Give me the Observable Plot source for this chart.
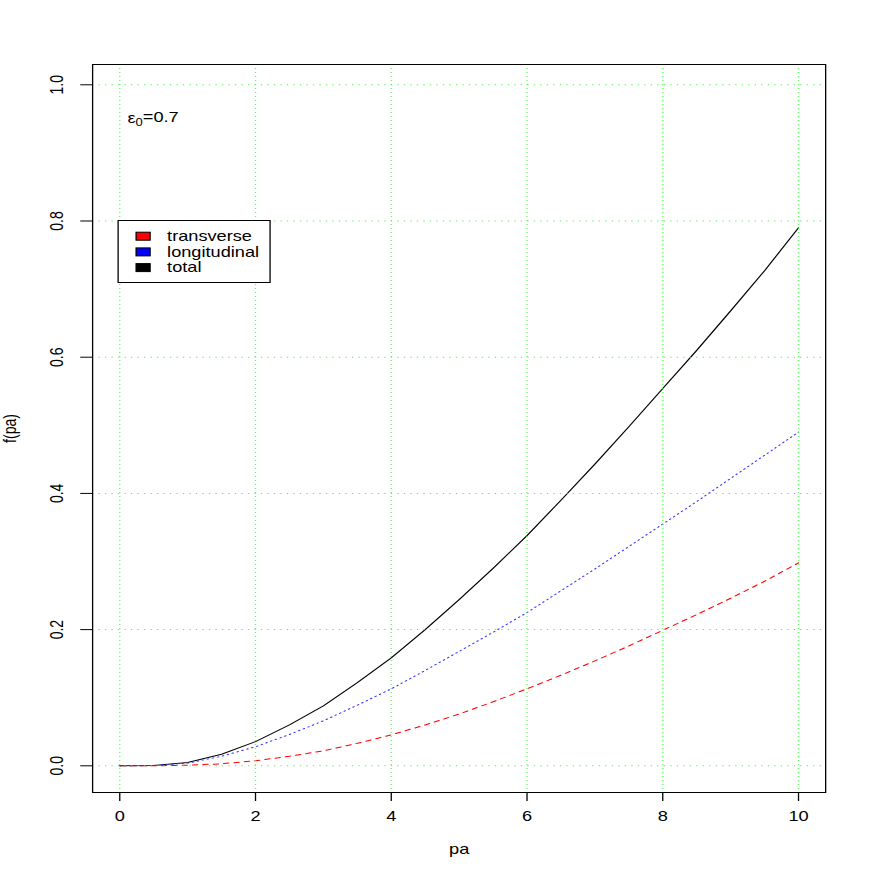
<!DOCTYPE html>
<html>
<head>
<meta charset="utf-8">
<script src="https://cdn.jsdelivr.net/npm/d3@7"></script>
<script src="https://cdn.jsdelivr.net/npm/@observablehq/plot@0.6"></script>
<style>
  html, body { margin: 0; padding: 0; background: #fff; }
  #chart { width: 872px; height: 872px; overflow: hidden; }
</style>
</head>
<body>
<div id="chart"></div>
<script>
// ---- data ----
const pa = [0, 0.5, 1, 1.5, 2, 2.5, 3, 3.5, 4, 4.5, 5, 5.5, 6, 6.5, 7, 7.5, 8, 8.5, 9, 9.5, 10];
const transverse = [0, 0.0000, 0.0008, 0.003, 0.0075, 0.014, 0.022, 0.033, 0.0455, 0.060, 0.076, 0.094, 0.113, 0.133, 0.154, 0.176, 0.199, 0.222, 0.246, 0.271, 0.298];
const longitudinal = [0, 0.0003, 0.004, 0.014, 0.028, 0.046, 0.066, 0.089, 0.113, 0.140, 0.168, 0.196, 0.225, 0.257, 0.289, 0.322, 0.355, 0.388, 0.422, 0.456, 0.490];
const total = [0, 0.0003, 0.0048, 0.017, 0.0355, 0.060, 0.088, 0.122, 0.1585, 0.200, 0.244, 0.290, 0.338, 0.390, 0.443, 0.498, 0.554, 0.610, 0.668, 0.727, 0.790];
const xTicks = [0, 2, 4, 6, 8, 10];
const yTicks = [0, 0.2, 0.4, 0.6, 0.8, 1.0];
const legendLabels = ["transverse", "longitudinal", "total"];
const legendColors = ["#ff0000", "#0000ff", "#000000"];
const annotation = {x: 0.5, y: 0.95, symbol: "ε", sub: "0", rest: "=0.7"};

// ---- layout: the reference is horizontally stretched, so draw narrower and stretch ----
const OUT = 872;
const SX = 1.3;
const W = Math.round(OUT / SX), H = 872;
const FONT = "'Liberation Sans', Arial, Helvetica, sans-serif";
const GRID = "#44ee44";

const rows = (ys, series) => pa.map((x, i) => ({x, y: ys[i], series}));
const tData = rows(transverse, "transverse");
const lData = rows(longitudinal, "longitudinal");
const totData = rows(total, "total");

const plot = Plot.plot({
  width: W,
  height: H,
  marginLeft: 92 / SX,
  marginRight: (OUT - 825) / SX,
  marginTop: 64,
  marginBottom: 80,
  style: {fontFamily: FONT, fontSize: "14px", background: "white", color: "black"},
  x: {domain: [-0.4, 10.4], axis: null},
  y: {domain: [-0.0392, 1.0298], axis: null},
  marks: [
    Plot.line(totData, {x: "x", y: "y", stroke: "#000", strokeWidth: 1}),
    Plot.line(lData, {x: "x", y: "y", stroke: "#3333ff", strokeWidth: 1, strokeDasharray: "1,3"}),
    Plot.line(tData, {x: "x", y: "y", stroke: "#ff0000", strokeWidth: 1, strokeDasharray: "4,4"}),
    Plot.ruleX(xTicks, {stroke: GRID, strokeWidth: 1, strokeOpacity: 0.8, strokeDasharray: "1,3"}),
    Plot.ruleY(yTicks, {stroke: GRID, strokeWidth: 1, strokeOpacity: 0.9, strokeDasharray: "1,4"}),
    Plot.frame({stroke: "#000", strokeWidth: 1}),
    Plot.axisX(xTicks, {tickSize: 9, tickFormat: () => "", label: null, stroke: "#000"}),
    Plot.axisY(yTicks, {tickSize: 9, tickFormat: () => "", label: null, stroke: "#000"}),
    Plot.text(xTicks, {x: d => d, frameAnchor: "bottom", dy: 24, text: d => String(d), fontSize: 14, lineAnchor: "middle", fill: "#000"}),
    Plot.text(yTicks, {y: d => d, frameAnchor: "left", dx: -(92 - 57) / SX, text: d => d3.format(".1f")(d), rotate: -90, fontSize: 14, textAnchor: "middle", lineAnchor: "middle", fill: "#000"}),
    Plot.text(["pa"], {frameAnchor: "bottom", dy: 57, text: d => d, fontSize: 14, lineAnchor: "middle", fill: "#000"}),
    Plot.text(["f(pa)"], {frameAnchor: "left", dx: -(92 - 10) / SX, text: d => d, rotate: -90, fontSize: 14, textAnchor: "middle", lineAnchor: "middle", fill: "#000"})
  ]
});

// stretch the drawing horizontally to match the reference
plot.setAttribute("viewBox", `0 0 ${W} ${H}`);
plot.setAttribute("preserveAspectRatio", "none");
plot.setAttribute("width", OUT);
plot.setAttribute("height", H);
plot.style.width = OUT + "px";
plot.style.height = H + "px";
plot.style.maxWidth = "none";

const xs = plot.scale("x"), ys = plot.scale("y");
const svg = d3.select(plot);

// annotation ε0=0.7
const ann = svg.append("text")
  .attr("x", xs.apply(annotation.x))
  .attr("y", ys.apply(annotation.y))
  .attr("text-anchor", "middle")
  .attr("dy", "0.35em")
  .attr("font-family", FONT)
  .attr("font-size", 14)
  .attr("fill", "#000");
ann.append("tspan").text(annotation.symbol);
ann.append("tspan").attr("font-size", 10).attr("dy", "0.3em").text(annotation.sub);
ann.append("tspan").attr("dy", "-0.3em").text(annotation.rest);

// legend anchored at (x = 0, y = 0.8)
const lx = xs.apply(0) - 1 / SX, ly = ys.apply(0.8);
const lg = svg.append("g").attr("transform", `translate(${lx},${ly})`);
lg.append("rect")
  .attr("x", 0).attr("y", 0)
  .attr("width", (270 - 118) / SX).attr("height", 62)
  .attr("fill", "white").attr("stroke", "#000").attr("stroke-width", 1);
legendLabels.forEach((lab, i) => {
  const cy = 15.7 + i * 15.7;
  lg.append("rect")
    .attr("x", (136 - 118) / SX).attr("y", cy - 4)
    .attr("width", 14 / SX).attr("height", 8)
    .attr("fill", legendColors[i]).attr("stroke", "#000").attr("stroke-width", 1);
  lg.append("text")
    .attr("x", (167 - 118) / SX).attr("y", cy)
    .attr("dy", "0.35em")
    .attr("text-anchor", "start")
    .attr("font-family", FONT).attr("font-size", 14).attr("fill", "#000")
    .text(lab);
});

document.getElementById("chart").appendChild(plot);
</script>
</body>
</html>
